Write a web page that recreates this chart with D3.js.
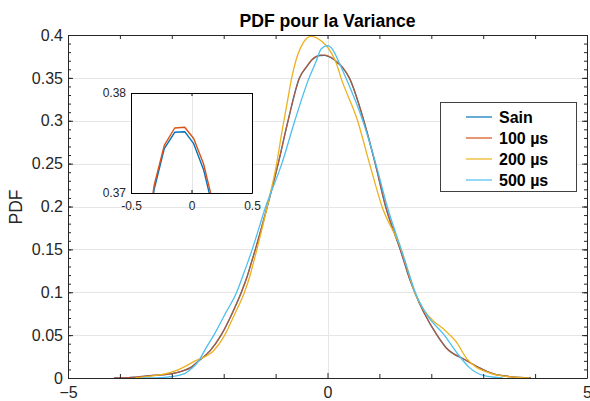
<!DOCTYPE html>
<html><head><meta charset="utf-8">
<script src="https://cdn.jsdelivr.net/npm/d3@7"></script>
<style>
body{margin:0;background:#fff;}
svg{display:block;font-family:"Liberation Sans",Arial,Helvetica,sans-serif;}
</style>
</head><body>
<svg id="c" width="590" height="401"></svg>
<script>
// ---------- data ----------
const seriesNames = ["Sain", "100 µs", "200 µs", "500 µs"];
const seriesColors = ["#0072BD", "#D95319", "#EDB120", "#4DBEEE"];

const xSain = [-4.11,-3.78,-3.42,-3.02,-2.80,-2.63,-2.48,-2.26,-2.05,-1.84,-1.66,-1.55,-1.46,-1.39,-1.16,-0.95,-0.76,-0.54,-0.40,-0.308,-0.225,-0.139,-0.056,0.018,0.100,0.192,0.29,0.42,0.70,0.92,1.12,1.40,1.48,1.58,1.68,1.86,2.11,2.29,2.66,2.91,3.20,3.52,3.92];
const ySain = [0,0.0008,0.0027,0.0047,0.008,0.0124,0.020,0.032,0.05,0.075,0.10,0.118,0.136,0.15,0.20,0.25,0.30,0.35,0.363,0.3704,0.37443,0.37607,0.37613,0.37493,0.37233,0.3677,0.362,0.35,0.30,0.25,0.20,0.15,0.135,0.116,0.10,0.076,0.05,0.035,0.021,0.0124,0.0047,0.0016,0];

const x100 = [-4.11,-3.78,-3.42,-3.02,-2.80,-2.63,-2.48,-2.26,-2.05,-1.84,-1.66,-1.55,-1.46,-1.39,-1.16,-0.95,-0.76,-0.54,-0.40,-0.308,-0.225,-0.139,-0.056,0.018,0.100,0.192,0.29,0.42,0.70,0.92,1.12,1.40,1.48,1.58,1.68,1.86,2.11,2.29,2.66,2.91,3.20,3.52,3.92];
const y100 = [0,0.0008,0.0027,0.0047,0.008,0.0124,0.020,0.032,0.05,0.075,0.10,0.118,0.136,0.15,0.20,0.25,0.30,0.35,0.3635,0.3708,0.37477,0.3765,0.37657,0.37545,0.3729,0.3683,0.3625,0.35,0.30,0.25,0.20,0.15,0.135,0.116,0.10,0.076,0.05,0.035,0.021,0.0124,0.0047,0.0016,0];

const x200 = [-3.70,-3.40,-3.13,-2.92,-2.55,-2.19,-1.98,-1.80,-1.60,-1.51,-1.42,-1.36,-1.16,-0.98,-0.87,-0.78,-0.69,-0.60,-0.52,-0.42,-0.33,-0.22,-0.10,0.0,0.17,0.26,0.58,0.81,1.05,1.42,1.55,1.68,1.85,2.05,2.22,2.36,2.47,2.69,2.87,3.05,3.30,3.67,3.89];
const y200 = [0,0.0022,0.0047,0.0085,0.020,0.032,0.05,0.073,0.10,0.116,0.136,0.15,0.20,0.25,0.29,0.32,0.35,0.372,0.385,0.395,0.3985,0.397,0.392,0.386,0.367,0.35,0.30,0.25,0.20,0.15,0.125,0.10,0.080,0.066,0.058,0.05,0.043,0.022,0.0124,0.0075,0.003,0.0008,0];

const x500 = [-3.57,-3.13,-2.77,-2.63,-2.48,-2.37,-2.19,-1.97,-1.75,-1.65,-1.53,-1.45,-1.19,-0.88,-0.63,-0.355,-0.22,-0.12,0.0,0.10,0.23,0.34,0.68,0.93,1.15,1.42,1.50,1.60,1.69,1.90,2.25,2.51,2.73,3.02,3.38];
const y500 = [0,0.0008,0.0047,0.0105,0.020,0.032,0.05,0.075,0.10,0.116,0.136,0.15,0.20,0.25,0.30,0.35,0.369,0.384,0.3875,0.383,0.367,0.352,0.30,0.25,0.20,0.15,0.135,0.116,0.10,0.075,0.05,0.028,0.0124,0.0027,0];

const xTicks = [-5, 0, 5];
const xMinorTicks = [-4,-3,-2,-1,1,2,3,4];
const yTicks = [0,0.05,0.1,0.15,0.2,0.25,0.3,0.35,0.4];
const yMinorTicks = d3.range(0, 41).map(i => i/100);
const insetXTicks = [-0.5, 0, 0.5];
const insetYTicks = [0.37, 0.38];
const titleText = "PDF pour la Variance";
const yLabelText = "PDF";

// ---------- layout ----------
const svg = d3.select("#c");
const P = {left:68, right:587, top:35, bottom:378};
const axisColor = "#262626";
const gridColor = "#e6e6e6";

const x = d3.scaleLinear().domain([-5,5]).range([P.left,P.right]);
const y = d3.scaleLinear().domain([0,0.4]).range([P.bottom,P.top]);

const allSeries = [
  {xs:xSain, ys:ySain},
  {xs:x100, ys:y100},
  {xs:x200, ys:y200},
  {xs:x500, ys:y500}
].map((s,i)=>({name:seriesNames[i], color:seriesColors[i], pts:s.xs.map((v,j)=>[v,s.ys[j]])}));

// grid
const grid = svg.append("g");
grid.selectAll("line.gy").data(yTicks).join("line")
  .attr("x1",P.left).attr("x2",P.right)
  .attr("y1",d=>Math.round(y(d))+0.5).attr("y2",d=>Math.round(y(d))+0.5)
  .attr("stroke",gridColor).attr("stroke-width",1);
grid.selectAll("line.gx").data(xTicks).join("line")
  .attr("x1",d=>Math.round(x(d))+0.5).attr("x2",d=>Math.round(x(d))+0.5)
  .attr("y1",P.top).attr("y2",P.bottom)
  .attr("stroke",gridColor).attr("stroke-width",1);

// clip
svg.append("defs").append("clipPath").attr("id","plotclip")
  .append("rect").attr("x",P.left).attr("y",P.top-2).attr("width",P.right-P.left).attr("height",P.bottom-P.top+2);

const line = d3.line().x(d=>x(d[0])).y(d=>y(d[1])).curve(d3.curveMonotoneX);
const lines = svg.append("g").attr("clip-path","url(#plotclip)");
allSeries.forEach((s,i)=>{
  lines.append("path").attr("d",line(s.pts)).attr("fill","none")
    .attr("stroke",s.color).attr("stroke-width",1.3)
    .attr("stroke-opacity", i===1 ? 0.8 : 1)
    .attr("stroke-linejoin","round");
});

// axes
function styleAxis(g){
  g.selectAll("path.domain").attr("stroke",axisColor);
  g.selectAll(".tick line").attr("stroke",axisColor);
  g.selectAll(".tick text").attr("fill",axisColor).attr("font-size","16px")
   .attr("font-family",'"Liberation Sans",Arial,sans-serif');
}
const gB = svg.append("g").attr("transform",`translate(0,${P.bottom})`)
  .call(d3.axisBottom(x).tickValues(xTicks).tickSizeInner(-5).tickSizeOuter(0).tickPadding(9).tickFormat(d3.format("d")));
styleAxis(gB);
const gBm = svg.append("g").attr("transform",`translate(0,${P.bottom})`)
  .call(d3.axisBottom(x).tickValues(xMinorTicks).tickSizeInner(-4).tickSizeOuter(0).tickFormat(""));
styleAxis(gBm); gBm.select(".domain").remove();
const gT = svg.append("g").attr("transform",`translate(0,${P.top})`)
  .call(d3.axisTop(x).tickValues(xTicks.concat(xMinorTicks)).tickSizeInner(-4).tickSizeOuter(0).tickFormat(""));
styleAxis(gT);
const gL = svg.append("g").attr("transform",`translate(${P.left},0)`)
  .call(d3.axisLeft(y).tickValues(yTicks).tickSizeInner(-5).tickSizeOuter(0).tickPadding(5).tickFormat(d=>d3.format("")(+d.toFixed(2))));
styleAxis(gL);
const gLm = svg.append("g").attr("transform",`translate(${P.left},0)`)
  .call(d3.axisLeft(y).tickValues(yMinorTicks).tickSizeInner(-3).tickSizeOuter(0).tickFormat(""));
styleAxis(gLm); gLm.select(".domain").remove();
const gR = svg.append("g").attr("transform",`translate(${P.right},0)`)
  .call(d3.axisRight(y).tickValues(yTicks).tickSizeInner(-5).tickSizeOuter(0).tickFormat(""));
styleAxis(gR);
const gRm = svg.append("g").attr("transform",`translate(${P.right},0)`)
  .call(d3.axisRight(y).tickValues(yMinorTicks).tickSizeInner(-3).tickSizeOuter(0).tickFormat(""));
styleAxis(gRm); gRm.select(".domain").remove();

// title and label
svg.append("text").attr("x",(P.left+P.right)/2).attr("y",27)
  .attr("text-anchor","middle").attr("font-weight","bold").attr("font-size","17.6px")
  .attr("fill","#000").text(titleText);
svg.append("text").attr("transform","translate(22,207) rotate(-90)")
  .attr("text-anchor","middle").attr("font-size","17.6px").attr("fill",axisColor).text(yLabelText);

// legend
const L = {x:440.5, y:102.5, w:136, h:89};
const lg = svg.append("g");
lg.append("rect").attr("x",L.x).attr("y",L.y).attr("width",L.w).attr("height",L.h)
  .attr("fill","#fff").attr("stroke","#404040").attr("stroke-width",1);
allSeries.forEach((s,i)=>{
  const cy = 117 + i*21;
  lg.append("line").attr("x1",466).attr("x2",492).attr("y1",cy).attr("y2",cy)
    .attr("stroke",s.color).attr("stroke-width",1.2);
  lg.append("text").attr("x",499).attr("y",cy).attr("dy","0.36em")
    .attr("font-weight","bold").attr("font-size","16px").attr("fill","#000").text(s.name);
});

// inset
const I = {left:131, right:252, top:93, bottom:193};
const xi = d3.scaleLinear().domain([-0.5,0.5]).range([I.left,I.right]);
const yi = d3.scaleLinear().domain([0.37,0.38]).range([I.bottom,I.top]);
const ins = svg.append("g");
ins.append("rect").attr("x",I.left).attr("y",I.top).attr("width",I.right-I.left).attr("height",I.bottom-I.top).attr("fill","#fff");
ins.selectAll("line.igx").data(insetXTicks).join("line")
  .attr("x1",d=>Math.round(xi(d))+0.5).attr("x2",d=>Math.round(xi(d))+0.5)
  .attr("y1",I.top).attr("y2",I.bottom).attr("stroke",gridColor);
svg.select("defs").append("clipPath").attr("id","insetclip")
  .append("rect").attr("x",I.left).attr("y",I.top).attr("width",I.right-I.left).attr("height",I.bottom-I.top);
const lineI = d3.line().x(d=>xi(d[0])).y(d=>yi(d[1]));
const insLines = ins.append("g").attr("clip-path","url(#insetclip)");
allSeries.slice(0,2).forEach(s=>{
  insLines.append("path").attr("d",lineI(s.pts)).attr("fill","none")
    .attr("stroke",s.color).attr("stroke-width",1.4).attr("stroke-linejoin","round");
});
function styleInset(g){
  g.selectAll("path.domain").attr("stroke","#000");
  g.selectAll(".tick line").attr("stroke","#000");
  g.selectAll(".tick text").attr("fill",axisColor).attr("font-size","12px")
   .attr("font-family",'"Liberation Sans",Arial,sans-serif');
}
const iB = ins.append("g").attr("transform",`translate(0,${I.bottom})`)
  .call(d3.axisBottom(xi).tickValues(insetXTicks).tickSizeInner(-3).tickSizeOuter(0).tickPadding(8).tickFormat(d=>String(d)));
styleInset(iB);
const iT = ins.append("g").attr("transform",`translate(0,${I.top})`)
  .call(d3.axisTop(xi).tickValues(insetXTicks).tickSizeInner(-3).tickSizeOuter(0).tickFormat(""));
styleInset(iT);
const iL = ins.append("g").attr("transform",`translate(${I.left},0)`)
  .call(d3.axisLeft(yi).tickValues(insetYTicks).tickSizeInner(-3).tickSizeOuter(0).tickPadding(5).tickFormat(d=>d.toFixed(2)));
styleInset(iL);
const iR = ins.append("g").attr("transform",`translate(${I.right},0)`)
  .call(d3.axisRight(yi).tickValues(insetYTicks).tickSizeInner(-3).tickSizeOuter(0).tickFormat(""));
styleInset(iR);
</script>
</body></html>
